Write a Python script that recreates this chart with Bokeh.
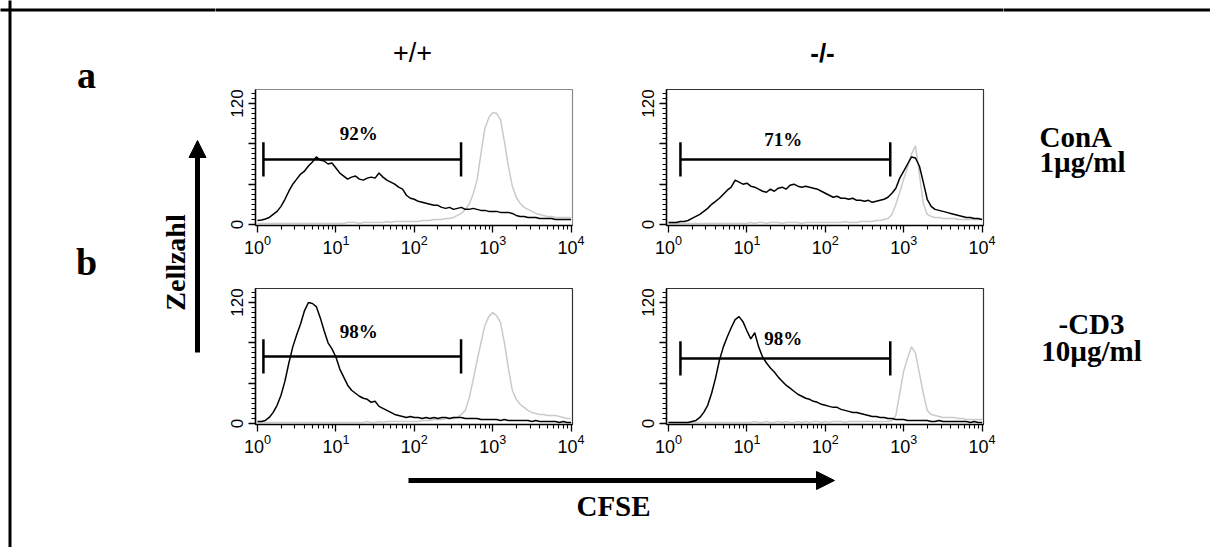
import numpy as np
from bokeh.plotting import figure
from bokeh.layouts import row, column
from bokeh.models import Range1d, FixedTicker, Arrow, NormalHead, LogTickFormatter
from bokeh.core.properties import value
from bokeh.embed import file_html
from bokeh.resources import INLINE

# ---------------- data ----------------
# histogram bins in decades of CFSE fluorescence (10^0 .. 10^4)
cfse_decades = [round(i * 0.05, 2) for i in range(81)]

ul_black = [4, 4.5, 5.5, 7, 10, 13, 18, 25, 33, 40,
            45, 50, 53, 58, 62, 67, 64, 63, 60, 61,
            56, 51, 48, 45, 47, 48, 45, 44, 46, 47,
            46, 51, 47, 44, 42, 40, 37, 35, 29, 26,
            25, 23, 22, 21, 20, 19, 19, 17, 16, 17,
            15, 16, 17, 15, 15, 16, 15, 14, 14, 13,
            13, 13, 12, 12, 12, 11, 9, 8, 8, 7,
            7, 7, 6, 6, 6, 6, 5, 5, 5, 5,
            5]
ul_gray = [1] * 20 + [1, 1, 1, 2, 2, 2, 1, 2, 2, 2, 2, 2, 2, 3, 2, 3, 3, 3, 3, 3] + \
          [3, 3, 4, 4, 4, 5, 5, 5, 6, 6,
           7, 9, 11, 15, 20, 30, 44, 70, 95, 106,
           111, 110, 104, 82, 58, 38, 27, 21, 17, 15,
           13, 11, 10, 9, 8, 8, 7, 7, 7, 7,
           7]

ur_black = [2, 2, 2, 3, 3, 4, 6, 8, 10, 13,
            16, 20, 23, 26, 30, 34, 37, 44, 42, 40,
            41, 38, 37, 35, 33, 32, 35, 33, 36, 37,
            35, 39, 40, 38, 37, 38, 37, 36, 35, 33,
            31, 29, 27, 28, 26, 26, 25, 26, 24, 24,
            23, 24, 22, 23, 24, 25, 27, 31, 36, 46,
            53, 60, 67, 66, 58, 42, 25, 18, 15, 14,
            13, 12, 11, 10, 9, 8, 7, 7, 6, 6,
            5]
ur_gray = [1] * 20 + [1, 2, 1, 2, 2, 1, 2, 2, 2, 1, 2, 2, 2, 2, 1, 2, 2, 2, 2, 2] + \
          [2, 2, 2, 2, 2, 3, 2, 2, 2, 3, 3, 3, 3, 4, 4, 5] + \
          [6, 10, 20, 32, 45, 57, 70, 78, 50, 21, 10, 8, 7, 7, 6, 6, 6, 6, 5, 5, 5, 5, 5, 5, 5]

ll_black = [2, 2, 3, 6, 11, 18, 28, 42, 60, 76,
            88, 99, 112, 120, 119, 116, 105, 92, 80, 74,
            66, 54, 46, 38, 33, 30, 27, 25, 24, 21,
            22, 17, 15, 13, 11, 9, 8, 7, 6, 7,
            6, 6, 5, 6, 5, 6, 5, 6, 6, 5,
            6, 6, 6, 5, 5, 5, 5, 4, 4, 4,
            4, 4, 3, 4, 3, 3, 3, 3, 3, 3,
            2, 3, 2, 2, 2, 2, 2, 1, 2, 1,
            1]
ll_gray = [1] * 20 + [1, 1, 1, 1, 1, 1, 1, 1, 2, 1, 1, 2, 1, 2, 2, 2, 2, 2, 2, 2] + \
          [2, 2, 3, 3, 3, 4, 4, 4, 5, 5,
           5, 6, 9, 13, 25, 43, 62, 80, 97, 106,
           110, 107, 100, 80, 55, 33, 24, 19, 16, 13,
           11, 10, 9, 9, 8, 8, 8, 7, 6, 5,
           5]

lr_black = [1, 1, 1, 1, 1, 1, 2, 3, 6, 11,
            18, 30, 45, 63, 76, 86, 95, 103, 106, 101,
            92, 84, 90, 76, 66, 60, 55, 51, 46, 42,
            38, 35, 32, 29, 27, 25, 24, 22, 21, 19,
            18, 17, 16, 16, 14, 13, 12, 11, 11, 10,
            9, 8, 7, 7, 6, 6, 5, 5, 4, 4,
            4, 3, 3, 3, 3, 3, 3, 2, 2, 3,
            2, 2, 2, 2, 2, 2, 2, 1, 2, 1,
            1]
lr_gray = [1] * 20 + [1, 1, 2, 1, 1, 2, 1, 1, 2, 1, 2, 1, 1, 2, 1, 2, 1, 2, 2, 1] + \
          [2, 1, 2, 2, 2, 1, 2, 2, 2, 2, 2, 2, 2, 2, 2, 2, 2] + \
          [3, 8, 30, 52, 65, 76, 70, 50, 30, 13, 9, 8, 7, 6, 6, 6, 6, 5, 5, 4, 4, 4, 4, 4]

# gates (marker bars) and their percentages, panel order: UL, UR, LL, LR
gate_lo = [1.19, 1.42, 1.19, 1.42]
gate_hi = [395, 674, 395, 674]
gate_y = [64.5, 64.5, 66.5, 64.5]
pct_labels = ["92%", "71%", "98%", "98%"]
pct_x = [19.5, 29, 19.5, 29]
pct_y = [90, 84, 91, 84]

x_major = [1, 10, 100, 1000, 10000]
x_minor = [m * 10 ** d for d in range(4) for m in range(2, 10)]
y_major = [0, 40, 80, 120]
y_labels = ["0", "", "", "120"]
y_minor = list(range(0, 135, 5))

col_headers = ["+/+", "-/-"]
row_letters = ["a", "b"]

cfse = 10 ** np.array(cfse_decades)

SANS = value("Liberation Sans")
SERIF = value("Liberation Serif")

X_START, X_END = 10 ** (-0.0255), 10 ** 4.018
Y_START, Y_END = -1.0, 133.9
GATE_HALF = 17


def panel(i, black, gray, width, height, bottom, right, outline):
    p = figure(width=width, height=height, x_axis_type="log",
               x_range=Range1d(X_START, X_END), y_range=Range1d(Y_START, Y_END),
               output_backend="svg", toolbar_location=None,
               min_border_left=40, min_border_right=right,
               min_border_top=4, min_border_bottom=bottom)
    p.grid.visible = False
    p.outline_line_color = outline
    p.outline_line_width = 1.2
    p.background_fill_color = "white"
    p.border_fill_color = "white"
    p.line(cfse, gray, line_color="#cacaca", line_width=1.5)
    p.line(cfse, black, line_color="black", line_width=1.5)
    p.segment(x0=[gate_lo[i]], y0=[gate_y[i]], x1=[gate_hi[i]], y1=[gate_y[i]],
              line_color="black", line_width=2.5)
    p.segment(x0=[gate_lo[i], gate_hi[i]], y0=[gate_y[i] - GATE_HALF] * 2,
              x1=[gate_lo[i], gate_hi[i]], y1=[gate_y[i] + GATE_HALF] * 2,
              line_color="black", line_width=2.5)
    p.text(x=[pct_x[i]], y=[pct_y[i]], text=[pct_labels[i]], text_font=SERIF,
           text_font_style="bold", text_font_size="19px", text_align="center",
           text_baseline="middle", text_color="black")

    xa = p.xaxis[0]
    xa.ticker = FixedTicker(ticks=x_major, minor_ticks=x_minor)
    xa.formatter = LogTickFormatter()
    ya = p.yaxis[0]
    ya.ticker = FixedTicker(ticks=y_major, minor_ticks=y_minor)
    ya.major_label_overrides = dict(zip(y_major, y_labels))
    ya.major_label_orientation = "vertical"
    for ax in (xa, ya):
        ax.axis_line_color = "black"
        ax.axis_line_width = 1.5
        ax.major_tick_line_color = "black"
        ax.major_tick_line_width = 1.3
        ax.minor_tick_line_color = "black"
        ax.minor_tick_line_width = 1.1
        ax.major_tick_in = 0
        ax.minor_tick_in = 0
        ax.major_tick_out = 7
        ax.minor_tick_out = 4
        ax.major_label_text_font = "Liberation Sans"
        ax.major_label_text_color = "black"
    xa.major_label_text_font_size = "18px"
    ya.major_label_text_font_size = "17px"
    xa.major_label_standoff = 2
    ya.major_label_standoff = 5
    return p


def canvas(x0, x1, y0, y1):
    p = figure(width=x1 - x0, height=y1 - y0, x_range=Range1d(x0, x1),
               y_range=Range1d(-y1, -y0), output_backend="svg",
               toolbar_location=None, x_axis_location=None, y_axis_location=None,
               min_border=0)
    p.grid.visible = False
    p.outline_line_color = None
    p.background_fill_color = "white"
    p.border_fill_color = "white"
    return p


# page coordinates (Bokeh's page template has no body margin)
LEFT, RIGHT, TOP, BOTTOM = 0, 1210, 0, 547
C1, C2 = 215, 1003
H1, F1 = 85, 464

# left column: border, row letters, Zellzahl arrow
left = canvas(LEFT, C1, TOP, BOTTOM)
left.line([9.5, 9.5], [-TOP + 20, -BOTTOM - 20], line_color="black", line_width=3)
left.line([LEFT - 20, C1 + 20], [-9.5, -9.5], line_color="black", line_width=3)
left.text(x=[86, 86], y=[-74, -261], text=row_letters, text_font=SERIF,
          text_font_style="bold", text_font_size="38px", text_align="center",
          text_baseline="middle", text_color="black")
left.text(x=[175], y=[-262], text=["Zellzahl"], text_font=SERIF, angle=np.pi / 2,
          text_font_style="bold", text_font_size="28px", text_align="center",
          text_baseline="middle", text_color="black")
left.add_layout(Arrow(end=NormalHead(size=17, fill_color="black", line_color="black"),
                      x_start=197, y_start=-352, x_end=197, y_end=-140,
                      line_width=5, line_color="black"))

# header
header = canvas(C1, C2, TOP, H1)
header.line([C1 - 20, C2 + 20], [-9.5, -9.5], line_color="black", line_width=3)
header.text(x=[412], y=[-52], text=[col_headers[0]], text_font=SANS,
            text_font_size="27px", text_align="center", text_baseline="middle",
            text_color="black")
header.text(x=[822], y=[-52], text=[col_headers[1]], text_font=SANS,
            text_font_style="bold", text_font_size="26px", text_align="center",
            text_baseline="middle", text_color="black")

ul = panel(0, ul_black, ul_gray, 411, 199, 59, 54, "#8a8a8a")
ur = panel(1, ur_black, ur_gray, 377, 199, 59, 20, "#333333")
ll = panel(2, ll_black, ll_gray, 411, 180, 40, 54, "#333333")
lr = panel(3, lr_black, lr_gray, 377, 180, 40, 20, "#333333")

# footer: CFSE arrow
footer = canvas(C1, C2, F1, BOTTOM)
footer.add_layout(Arrow(end=NormalHead(size=18, fill_color="black", line_color="black"),
                        x_start=408, y_start=-480, x_end=834, y_end=-480,
                        line_width=5, line_color="black"))
footer.text(x=[613], y=[-505], text=["CFSE"], text_font=SERIF,
            text_font_style="bold", text_font_size="29px", text_align="center",
            text_baseline="middle", text_color="black")

# right column: stimulation labels
right = canvas(C2, RIGHT, TOP, BOTTOM)
right.line([C2 - 20, RIGHT + 20], [-9.5, -9.5], line_color="black", line_width=3)
right.text(x=[1039, 1039], y=[-136, -161], text=["ConA", "1\u00b5g/ml"], text_font=SERIF,
           text_font_style="bold", text_font_size="29px", text_align="left",
           text_baseline="middle", text_color="black")
right.text(x=[1091, 1091], y=[-323, -350], text=["-CD3", "10\u00b5g/ml"], text_font=SERIF,
           text_font_style="bold", text_font_size="29px", text_align="center",
           text_baseline="middle", text_color="black")

middle = column(header, row(ul, ur), row(ll, lr), footer)
layout = row(left, middle, right)

open("out.html", "w").write(file_html(layout, INLINE))
